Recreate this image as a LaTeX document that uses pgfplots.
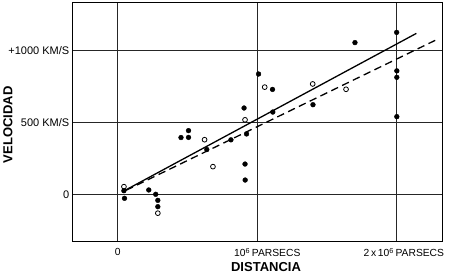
\documentclass[border=0pt]{standalone}
\usepackage{pgfplots}
\pgfplotsset{compat=1.18}
\usepackage{fontspec}
\setmainfont{Liberation Sans}
\begin{document}
\begin{tikzpicture}
\begin{axis}[
  scale only axis, width=370.3pt, height=239pt,
  xmin=-0.323, xmax=2.331, ymin=-331, ymax=1328,
  xtick={0,1,2},
  xticklabels={0,\hspace*{20pt}10\textsuperscript{6}\,PARSECS,\hspace*{14pt}2\,x\,10\textsuperscript{6}\,PARSECS},
  ytick={0,500,1000},
  yticklabels={0,500 KM/S,+1000 KM/S},
  major tick length=0pt,
  grid=major,
  major grid style={black!85, line width=0.9pt},
  axis line style={black, line width=1pt},
  xticklabel style={font=\fontsize{10.3}{12}\selectfont, yshift=-2.5pt},
  yticklabel style={font=\fontsize{11}{13}\selectfont},
  xlabel={DISTANCIA},
  ylabel={VELOCIDAD},
  xlabel style={font=\fontsize{13}{15}\selectfont\bfseries, at={(axis description cs:0.522,-0.103)}, anchor=center},
  ylabel style={font=\fontsize{13}{15}\selectfont\bfseries, at={(axis description cs:-0.175,0.49)}, anchor=center},
  clip=false,
]
\addplot[black, line width=1.3pt] coordinates {(0.03,16) (2.14,1117)};
\addplot[black, line width=1.3pt, dash pattern=on 7.5pt off 4.5pt] coordinates {(0.06,28) (2.28,1071)};
\addplot[only marks, mark=*, mark size=2.4pt, black] coordinates {
(0.044,25) (0.048,-28) (0.222,30) (0.272,0) (0.287,-42) (0.287,-86)
(0.453,394) (0.507,395) (0.507,442) (0.638,311) (0.811,378)
(0.905,599) (0.923,419) (0.912,210) (0.913,99)
(1.009,835) (1.109,728) (1.111,571) (1.399,622) (1.700,1053)
(1.999,1124) (2.0,857) (2.0,812) (2.0,539)
};
\addplot[only marks, mark=o, mark size=2.4pt, black, line width=0.8pt, mark options={fill=white}] coordinates {
(0.044,53) (0.287,-131) (0.622,379) (0.682,192) (0.912,517)
(1.053,744) (1.397,766) (1.636,729)
};
\end{axis}
\path (current axis.south west) ++(-72.7pt,-33pt) coordinate (bl);
\path (current axis.north east) ++(7pt,3pt) coordinate (tr);
\path (bl) rectangle (tr);
\end{tikzpicture}
\end{document}
